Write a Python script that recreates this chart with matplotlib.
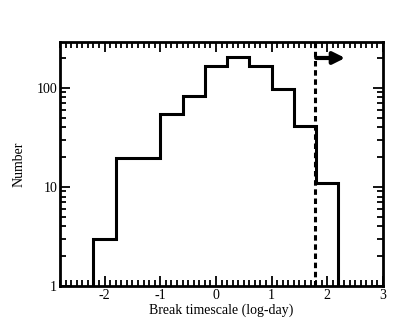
import numpy as np
import matplotlib.pyplot as plt
from matplotlib.ticker import MultipleLocator, FixedLocator, NullFormatter

# histogram of break timescales (log-day)
edges = [-2.2, -1.8, -1.4, -1.0, -0.6, -0.2, 0.2, 0.6, 1.0, 1.4, 1.8, 2.2]
counts = [3, 19.5, 19.5, 54, 82, 167, 207, 167, 97, 41, 11]
cut = 1.77          # dashed limit
arrow_x = [1.8, 2.32]
arrow_y = 200

plt.rcParams['font.family'] = ['Liberation Serif', 'DejaVu Serif']

fig = plt.figure(figsize=(4.15, 3.32), dpi=100)
ax = fig.add_axes([60 / 415, 1 - 286 / 332, 323 / 415, 244 / 332])

ax.stairs(counts, edges, baseline=1, color='black', lw=2.2)
ax.axvline(cut, color='black', lw=2.2, ls=(0, (1.8, 1.2)))
ax.annotate('', xy=(arrow_x[1], arrow_y), xytext=(arrow_x[0], arrow_y),
            arrowprops=dict(arrowstyle='-|>,head_length=0.7,head_width=0.35',
                            color='black', lw=3,
                            mutation_scale=10, shrinkA=0, shrinkB=0))

ax.set_yscale('log')
ax.set_xlim(-2.8, 3)
ax.set_ylim(1, 290)
ax.set_xticks([-2, -1, 0, 1, 2, 3])
ax.set_xticklabels(['-2', '-1', '0', '1', '2', '3'])
ax.xaxis.set_minor_locator(MultipleLocator(0.1))
ax.yaxis.set_major_locator(FixedLocator([1, 10, 100]))
ax.set_yticklabels(['1', '10', '100'])
ax.yaxis.set_minor_locator(FixedLocator([m * d for d in (1, 10, 100) for m in range(2, 10)]))
ax.yaxis.set_minor_formatter(NullFormatter())

ax.tick_params(which='both', direction='in', top=True, right=True,
               labelsize=10, width=1.3, pad=2)
ax.tick_params(which='major', length=7.5)
ax.tick_params(which='minor', length=4.5)
for s in ax.spines.values():
    s.set_linewidth(2)

ax.set_xlabel('Break timescale (log-day)', fontsize=10, labelpad=1)
ax.set_ylabel('Number', fontsize=10, labelpad=8)

fig.savefig('out.png', dpi=100)
